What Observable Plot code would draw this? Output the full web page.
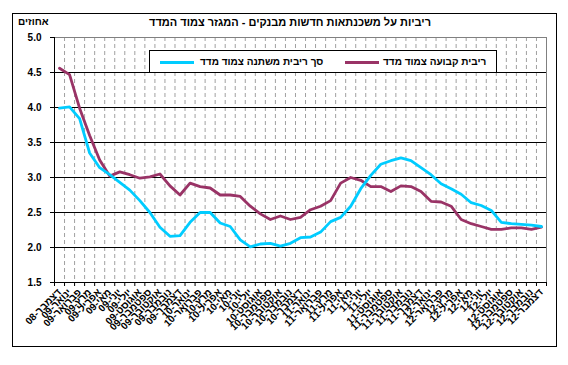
<!DOCTYPE html>
<html><head><meta charset="utf-8">
<script src="https://cdn.jsdelivr.net/npm/d3@7"></script>
<script src="https://cdn.jsdelivr.net/npm/@observablehq/plot@0.6"></script>
<style>
body{margin:0;background:#fff;}
#wrap{position:relative;width:568px;height:365px;overflow:hidden;font-family:"Liberation Sans",Arial,sans-serif;font-weight:bold;color:#000;}
#chart{position:absolute;left:0;top:0;}
#frame{position:absolute;left:12px;top:13px;width:545px;height:334px;border:1px solid #000;box-sizing:border-box;pointer-events:none;}
#title{position:absolute;left:0;width:580px;top:16px;text-align:center;font-size:11px;direction:rtl;}
#unit{position:absolute;left:18px;top:16px;font-size:10px;direction:rtl;}
#legend{position:absolute;left:149px;top:50px;width:348px;height:23px;border:1px solid #000;box-sizing:border-box;background:#fff;font-size:10px;}
.item{position:absolute;top:5px;direction:rtl;white-space:nowrap;}
.sw{position:absolute;height:3px;top:10px;}
</style></head>
<body><div id="wrap">
<div id="chart"></div>
<div id="frame"></div>
<div id="title"></div>
<div id="unit"></div>
<div id="legend"></div>
</div>
<script>
const title = "ריביות על משכנתאות חדשות מבנקים - המגזר צמוד המדד";
const unitLabel = "אחוזים";
const seriesNames = ["ריבית קבועה צמוד מדד", "סך ריבית משתנה צמוד מדד"];
const seriesColors = ["#993366", "#00ccff"];
const labels = [
 "דצמבר-08",
 "ינואר-09","פברואר-09","מרץ-09","אפריל-09","מאי-09","יוני-09","יולי-09","אוגוסט-09","ספטמבר-09","אוקטובר-09","נובמבר-09","דצמבר-09",
 "ינואר-10","פברואר-10","מרץ-10","אפריל-10","מאי-10","יוני-10","יולי-10","אוגוסט-10","ספטמבר-10","אוקטובר-10","נובמבר-10","דצמבר-10",
 "ינואר-11","פברואר-11","מרץ-11","אפריל-11","מאי-11","יוני-11","יולי-11","אוגוסט-11","ספטמבר-11","אוקטובר-11","נובמבר-11","דצמבר-11",
 "ינואר-12","פברואר-12","מרץ-12","אפריל-12","מאי-12","יוני-12","יולי-12","אוגוסט-12","ספטמבר-12","אוקטובר-12","נובמבר-12","דצמבר-12"
];
const fixedRate = [4.56,4.47,3.99,3.60,3.25,3.02,3.08,3.04,2.99,3.01,3.05,2.88,2.75,
 2.92,2.87,2.85,2.75,2.75,2.73,2.59,2.48,2.40,2.45,2.40,2.43,
 2.54,2.59,2.67,2.92,3.00,2.96,2.87,2.87,2.80,2.88,2.87,2.80,
 2.66,2.65,2.59,2.40,2.34,2.30,2.26,2.26,2.28,2.28,2.26,2.29];
const variableRate = [3.99,4.01,3.84,3.35,3.14,3.04,2.93,2.82,2.67,2.50,2.29,2.16,2.17,
 2.36,2.50,2.50,2.35,2.30,2.11,2.01,2.05,2.06,2.02,2.06,2.14,
 2.15,2.22,2.37,2.43,2.59,2.84,3.03,3.19,3.24,3.28,3.24,3.14,
 3.04,2.91,2.84,2.76,2.64,2.60,2.53,2.36,2.34,2.33,2.32,2.30];
const yTicks = [1.5,2.0,2.5,3.0,3.5,4.0,4.5,5.0];

const idx = labels.map((d,i)=>i);
const bounds = d3.range(-0.5, labels.length, 1);
const fixedData = idx.map(i=>({i, v: fixedRate[i]}));
const varData = idx.map(i=>({i, v: variableRate[i]}));

const plot = Plot.plot({
  width: 568, height: 365,
  marginLeft: 54, marginRight: 22, marginTop: 37, marginBottom: 83,
  style: {fontFamily: '"Liberation Sans", Arial, sans-serif', fontWeight: "bold", fontSize: "10px", background: "transparent", color: "#000"},
  x: {type: "linear", domain: [-0.5, labels.length - 0.5]},
  y: {domain: [1.5, 5.0]},
  marks: [
    Plot.gridX({ticks: bounds.slice(1, -1), stroke: "#a0a0a0", strokeOpacity: 1, strokeDasharray: "4,3"}),
    Plot.gridY({ticks: yTicks.slice(1, -1), stroke: "#000", strokeOpacity: 1}),
    Plot.ruleY([5.0], {stroke: "#808080"}),
    Plot.ruleX([labels.length - 0.5], {stroke: "#808080"}),
    Plot.ruleX([-0.5], {stroke: "#000"}),
    Plot.ruleY([1.5], {stroke: "#000"}),
    Plot.axisY({ticks: yTicks, tickFormat: d => d.toFixed(1), tickSize: 4, tickPadding: 9, label: null}),
    Plot.axisX({ticks: bounds, tickFormat: () => "", tickSize: 4, label: null}),
    Plot.axisX({ticks: idx, tickFormat: i => labels[i], tickSize: 0, tickPadding: 8, tickRotate: -45, textAnchor: "end", label: null}),
    Plot.lineY(fixedData, {x: "i", y: "v", stroke: seriesColors[0], strokeWidth: 2.8}),
    Plot.lineY(varData, {x: "i", y: "v", stroke: seriesColors[1], strokeWidth: 2.8})
  ]
});
document.getElementById("chart").appendChild(plot);
document.getElementById("title").textContent = title;
document.getElementById("unit").textContent = unitLabel;
const leg = document.getElementById("legend");
const items = [
  {name: seriesNames[0], color: seriesColors[0], sw: 195, tx: 233},
  {name: seriesNames[1], color: seriesColors[1], sw: 10, tx: 50}
];
items.forEach(it => {
  const s = document.createElement("div");
  s.className = "sw"; s.style.left = it.sw + "px"; s.style.width = "34px"; s.style.background = it.color;
  leg.appendChild(s);
  const t = document.createElement("div");
  t.className = "item"; t.style.left = it.tx + "px"; t.textContent = it.name;
  leg.appendChild(t);
});
</script>
</body></html>
